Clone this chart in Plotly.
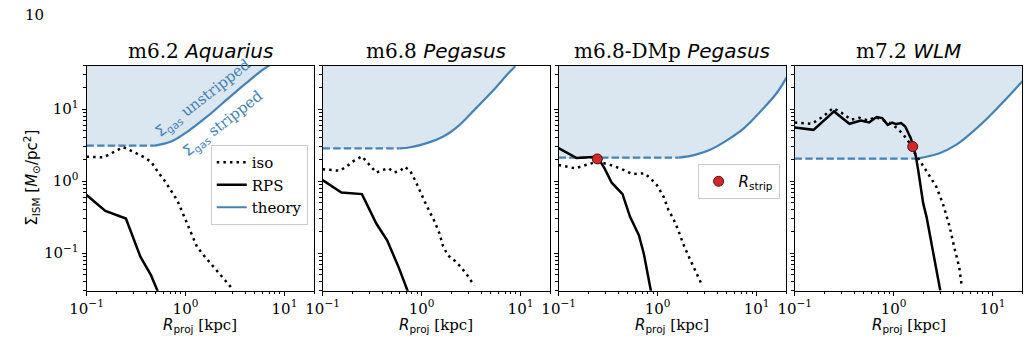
import math
import plotly.graph_objects as go

# ---------------- data ----------------
titles_main = ["m6.2", "m6.8", "m6.8-DMp", "m7.2"]
titles_ital = ["Aquarius", "Pegasus", "Pegasus", "WLM"]

# iso (dotted)
iso_r1 = [0.1, 0.149, 0.201, 0.235, 0.295, 0.372, 0.449, 0.524, 0.61, 0.71, 0.826, 0.927, 1.08, 1.31, 1.58, 1.99, 2.5, 3.03]
iso_s1 = [2.18, 2.14, 2.65, 2.95, 2.56, 2.18, 1.86, 1.35, 1.03, 0.75, 0.54, 0.373, 0.23, 0.121, 0.088, 0.0605, 0.0417, 0.031]
iso_r2 = [0.1, 0.149, 0.173, 0.201, 0.25, 0.29, 0.349, 0.4, 0.467, 0.524, 0.61, 0.673, 0.767, 0.86, 0.964, 1.08, 1.21, 1.36, 1.52, 1.64, 1.84, 2.15, 2.5, 2.91, 3.4]
iso_s2 = [1.46, 1.39, 1.58, 1.86, 2.2, 1.76, 1.31, 1.42, 1.5, 1.32, 1.38, 1.58, 1.39, 1.03, 0.71, 0.514, 0.373, 0.27, 0.186, 0.128, 0.093, 0.079, 0.0638, 0.0489, 0.0355]
iso_r3 = [0.1, 0.147, 0.199, 0.246, 0.291, 0.36, 0.459, 0.556, 0.738, 0.847, 0.984, 1.15, 1.29, 1.44, 1.62, 1.81, 2.11, 2.46, 2.82]
iso_s3 = [1.67, 1.5, 1.71, 1.86, 1.76, 1.62, 1.42, 1.25, 1.28, 1.09, 0.88, 0.604, 0.394, 0.302, 0.207, 0.135, 0.0836, 0.0516, 0.0355]
iso_r4 = [0.1, 0.149, 0.194, 0.244, 0.295, 0.372, 0.449, 0.544, 0.658, 0.796, 0.927, 1.08, 1.26, 1.41, 1.64, 1.91, 2.32, 2.7, 3.14, 3.66, 4.1, 4.6, 4.9]
iso_s4 = [6.5, 6.24, 7.89, 10.3, 8.97, 7.1, 7.57, 6.94, 7.73, 6.94, 6.38, 5.43, 4.38, 3.54, 2.43, 1.77, 1.15, 0.833, 0.489, 0.24, 0.12, 0.0638, 0.0336]

# RPS (solid black)
rps_r1 = [0.1, 0.155, 0.25, 0.349, 0.449, 0.524]
rps_s1 = [0.64, 0.385, 0.302, 0.09, 0.0489, 0.0295]
rps_r2 = [0.1, 0.155, 0.25, 0.349, 0.449, 0.586, 0.726]
rps_s2 = [1.03, 0.695, 0.659, 0.257, 0.150, 0.0638, 0.0295]
rps_r3 = [0.1, 0.152, 0.246, 0.291, 0.344, 0.442, 0.527, 0.647, 0.726, 0.796, 0.857]
rps_s3 = [2.86, 2.09, 2.18, 1.5, 0.948, 0.659, 0.318, 0.177, 0.098, 0.0516, 0.0295]
rps_r4 = [0.1, 0.155, 0.25, 0.357, 0.467, 0.565, 0.673, 0.767, 0.871, 0.964, 1.06, 1.19, 1.31, 1.41, 1.49, 1.58, 1.68, 1.77, 1.87, 1.99, 2.15, 2.32, 2.5, 2.7, 2.96]
rps_s4 = [5.56, 5.14, 9.27, 6.24, 6.94, 6.5, 7.73, 7.48, 6.04, 6.5, 6.18, 6.38, 5.72, 4.62, 3.94, 3.01, 2.18, 1.42, 0.833, 0.489, 0.318, 0.186, 0.109, 0.0638, 0.0302]

# theory: flat floor, then rising curve
th_floor = [3.1, 2.84, 2.11, 2.05]
th_r1 = [0.489, 0.716, 1.05, 1.66, 2.61, 4.13, 6.06, 7.06]
th_s1 = [3.1, 3.53, 4.87, 7.89, 13.5, 23.1, 35.3, 40.5]
th_r2 = [0.6, 0.773, 1.13, 1.66, 2.43, 3.56, 5.2, 7.62, 8.87]
th_s2 = [2.84, 2.95, 3.36, 4.15, 6.04, 10.3, 17.6, 31.8, 39.3]
th_r3 = [1.63, 2.38, 3.49, 5.1, 7.48, 11.0, 16.0, 20.0]
th_s3 = [2.11, 2.31, 2.77, 3.73, 5.43, 9.3, 16.7, 27.1]
th_r4 = [1.72, 2.91, 4.27, 5.78, 8.55, 12.5, 20.0]
th_s4 = [2.05, 2.43, 3.18, 4.38, 7.1, 12.1, 24.3]

# R_strip markers (panel index, r, sigma)
strip_panel = [2, 3]
strip_r = [0.246, 1.56]
strip_s = [2.03, 3.01]

x_tickvals = [0.1, 1, 10]
x_ticktext = ["10<sup>\u22121</sup>", "10<sup>0</sup>", "10<sup>1</sup>"]
y_tickvals = [0.1, 1, 10]
y_ticktext = ["10<sup>\u22121</sup>", "10<sup>0</sup>", "10<sup>1</sup>"]

# ---------------- styling / layout ----------------
XMIN, XMAX = 0.1, 20.0
YMIN, YMAX = 0.03, 40.0
W, H = 1033, 355
LEFT0, PITCH, PW = 70.7, 240.0, 231.5
TOP_PX, BOT_PX = 65.7, 290.7

STEEL = "#4682b4"
FILL = "rgba(70,130,180,0.2)"
SERIF = "DejaVu Serif"
SANS = "DejaVu Sans"

minor_vals = [m * 10 ** e for e in range(-2, 2) for m in range(2, 10)]

iso_r = [iso_r1, iso_r2, iso_r3, iso_r4]
iso_s = [iso_s1, iso_s2, iso_s3, iso_s4]
rps_r = [rps_r1, rps_r2, rps_r3, rps_r4]
rps_s = [rps_s1, rps_s2, rps_s3, rps_s4]
th_r = [th_r1, th_r2, th_r3, th_r4]
th_s = [th_s1, th_s2, th_s3, th_s4]


def px_x(p):
    return p / W


def px_y(p):
    return 1 - p / H


fig = go.Figure()

for i in range(4):
    xa = "x" if i == 0 else f"x{i+1}"
    ya = "y" if i == 0 else f"y{i+1}"
    # fill region above theory curve
    fig.add_trace(go.Scatter(x=[XMIN, XMAX * 3], y=[1e4, 1e4], mode="lines",
                             line=dict(width=0, color="rgba(0,0,0,0)"),
                             xaxis=xa, yaxis=ya, showlegend=False, hoverinfo="skip"))
    fig.add_trace(go.Scatter(x=[XMIN] + th_r[i], y=[th_floor[i]] + th_s[i], mode="lines",
                             line=dict(width=0, shape="spline", color="rgba(0,0,0,0)"),
                             fill="tonexty", fillcolor=FILL,
                             xaxis=xa, yaxis=ya, showlegend=False, hoverinfo="skip"))
    # dashed floor
    fig.add_trace(go.Scatter(x=[XMIN, th_r[i][0]], y=[th_floor[i], th_floor[i]], mode="lines",
                             line=dict(color=STEEL, width=2.2, dash="7.4px,3.2px"),
                             xaxis=xa, yaxis=ya, showlegend=False, hoverinfo="skip"))
    # solid theory
    fig.add_trace(go.Scatter(x=th_r[i], y=th_s[i], mode="lines",
                             line=dict(color=STEEL, width=2.2, shape="spline"),
                             name="theory", legendrank=3, showlegend=(i == 0),
                             xaxis=xa, yaxis=ya, hoverinfo="skip"))
    # iso
    fig.add_trace(go.Scatter(x=iso_r[i], y=iso_s[i], mode="lines",
                             line=dict(color="black", width=2.5, dash="2.5px,4.1px"),
                             name="iso", legendrank=1, showlegend=(i == 0),
                             xaxis=xa, yaxis=ya, hoverinfo="skip"))
    # RPS
    fig.add_trace(go.Scatter(x=rps_r[i], y=rps_s[i], mode="lines",
                             line=dict(color="black", width=2.5),
                             name="RPS", legendrank=2, showlegend=(i == 0),
                             xaxis=xa, yaxis=ya, hoverinfo="skip"))

for k, (pi, r, s) in enumerate(zip(strip_panel, strip_r, strip_s)):
    xa = "x" if pi == 0 else f"x{pi+1}"
    ya = "y" if pi == 0 else f"y{pi+1}"
    fig.add_trace(go.Scatter(x=[r], y=[s], mode="markers",
                             marker=dict(color="#d62728", size=10,
                                         line=dict(color="#4a1010", width=1)),
                             name=f"<span style='font-family:{SANS}'><i>R</i><sub>strip</sub></span>",
                             legend="legend2", showlegend=(k == 0),
                             xaxis=xa, yaxis=ya, hoverinfo="skip"))

axis_common = dict(
    type="log", showline=True, mirror=True, linecolor="black", linewidth=1,
    ticks="outside", ticklen=4, tickwidth=1, tickcolor="black",
    showgrid=False, zeroline=False,
    tickfont=dict(family=SERIF, size=15, color="black"),
    minor=dict(ticks="outside", ticklen=2.2, tickwidth=0.8, tickcolor="black",
               tickvals=minor_vals, showgrid=False),
)

layout = dict(
    width=W, height=H,
    margin=dict(l=0, r=0, t=0, b=0),
    paper_bgcolor="white", plot_bgcolor="white",
    showlegend=True,
    legend=dict(x=px_x(197), y=px_y(145), xanchor="left", yanchor="top",
                traceorder="normal",
                bgcolor="rgba(255,255,255,0.8)", bordercolor="#cccccc", borderwidth=1,
                font=dict(family=SERIF, size=15, color="black"), tracegroupgap=0,
                itemwidth=30),
    legend2=dict(x=px_x(692), y=px_y(164), xanchor="left", yanchor="top",
                 traceorder="normal",
                 bgcolor="rgba(255,255,255,0.8)", bordercolor="#cccccc", borderwidth=1,
                 font=dict(family=SERIF, size=15, color="black"), itemwidth=30),
)

annotations = []
for i in range(4):
    xs = "" if i == 0 else str(i + 1)
    x0 = LEFT0 + PITCH * i
    x1 = x0 + PW
    layout["xaxis" + xs] = dict(axis_common, domain=[px_x(x0), px_x(x1)],
                                range=[math.log10(XMIN), math.log10(XMAX)],
                                anchor="y" + xs, tickvals=x_tickvals, ticktext=x_ticktext)
    layout["yaxis" + xs] = dict(axis_common, domain=[px_y(BOT_PX), px_y(TOP_PX)],
                                range=[math.log10(YMIN), math.log10(YMAX)],
                                anchor="x" + xs, tickvals=y_tickvals,
                                ticktext=y_ticktext if i == 0 else ["", "", ""],
                                showticklabels=(i == 0))
    cx = (x0 + x1) / 2
    annotations.append(dict(
        x=px_x(cx), y=px_y(51), xref="paper", yref="paper", showarrow=False,
        xanchor="center", yanchor="middle",
        text=f"{titles_main[i]} <span style='font-family:{SANS}'><i>{titles_ital[i]}</i></span>",
        font=dict(family=SERIF, size=20, color="black")))
    annotations.append(dict(
        x=px_x(cx), y=px_y(325), xref="paper", yref="paper", showarrow=False,
        xanchor="center", yanchor="middle",
        text=f"<span style='font-family:{SANS}'><i>R</i><sub>proj</sub></span> [kpc]",
        font=dict(family=SERIF, size=15, color="black")))

annotations.append(dict(x=px_x(14), y=px_y(178), xref="paper", yref="paper", showarrow=False,
                        xanchor="center", yanchor="middle", textangle=-90,
                        text="\u03a3<sub>ISM</sub> [<i>M</i><sub>\u2299</sub>/pc<sup>2</sup>]",
                        font=dict(family=SANS, size=15, color="black")))
annotations.append(dict(x=px_x(6), y=px_y(15), xref="paper", yref="paper", showarrow=False,
                        xanchor="left", yanchor="middle", text="10",
                        font=dict(family=SERIF, size=15, color="black")))
annotations.append(dict(x=px_x(189), y=px_y(98), xref="paper", yref="paper", showarrow=False,
                        xanchor="center", yanchor="middle", textangle=-38,
                        text=f"<span style='font-family:{SANS}'>\u03a3<sub>gas</sub></span> unstripped",
                        font=dict(family=SERIF, size=15, color=STEEL)))
annotations.append(dict(x=px_x(210), y=px_y(124), xref="paper", yref="paper", showarrow=False,
                        xanchor="center", yanchor="middle", textangle=-38,
                        text=f"<span style='font-family:{SANS}'>\u03a3<sub>gas</sub></span> stripped",
                        font=dict(family=SERIF, size=15, color=STEEL)))
layout["annotations"] = annotations

fig.update_layout(**layout)
fig.write_html("out.html")
